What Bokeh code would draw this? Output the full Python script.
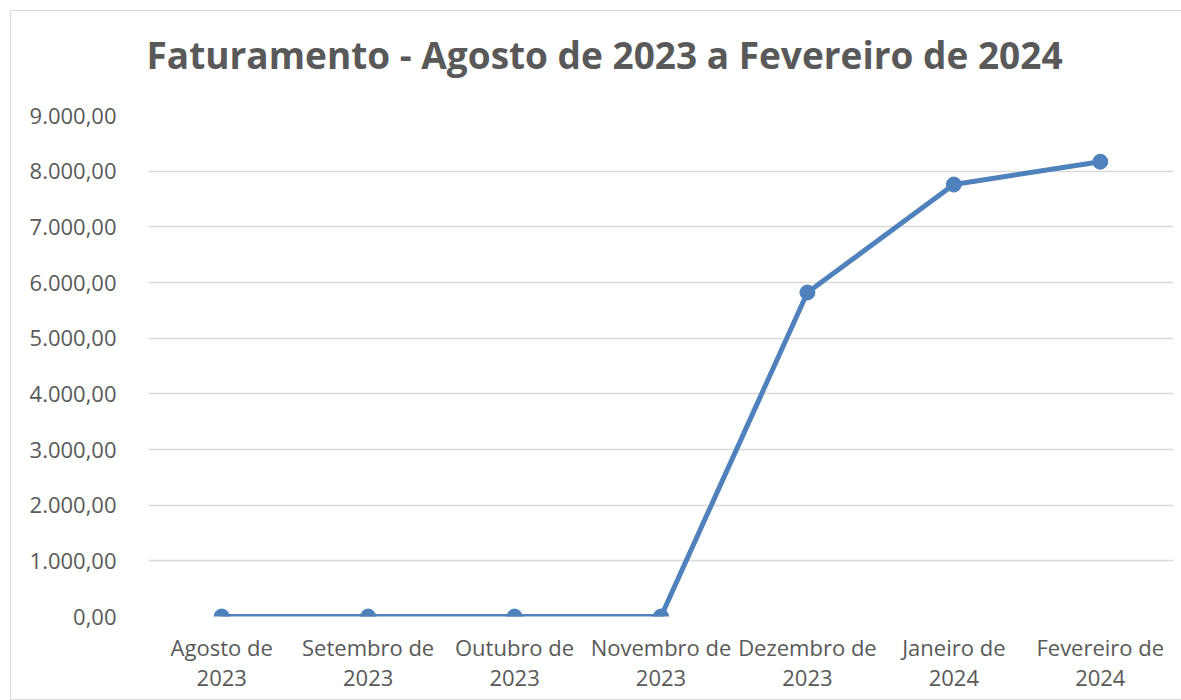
from bokeh.plotting import figure
from bokeh.models import FixedTicker, Title, Range1d
from bokeh.embed import file_html
from bokeh.resources import INLINE

title_text = "Faturamento - Agosto de 2023 a Fevereiro de 2024"
months = ["Agosto de\n2023", "Setembro de\n2023", "Outubro de\n2023", "Novembro de\n2023",
          "Dezembro de\n2023", "Janeiro de\n2024", "Fevereiro de\n2024"]
faturamento = [0, 0, 0, 0, 5820, 7760, 8170]
y_ticks = [0, 1000, 2000, 3000, 4000, 5000, 6000, 7000, 8000, 9000]
y_tick_labels = ["0,00", "1.000,00", "2.000,00", "3.000,00", "4.000,00", "5.000,00",
                 "6.000,00", "7.000,00", "8.000,00", "9.000,00"]

FONT = "Open Sans"
GRAY = "#595959"
BLUE = "#4F81BD"

p = figure(x_range=months, y_range=Range1d(0, 9000), width=1172, height=690,
           output_backend="svg", toolbar_location=None, tools="")
p.styles = {"border": "1px solid #d9d9d9", "margin-left": "10px", "margin-top": "10px"}
p.min_border_left = 137
p.min_border_right = 10
p.min_border_top = 104
p.min_border_bottom = 85
p.outline_line_color = None
p.background_fill_color = "white"
p.border_fill_color = "white"

# main title (outermost panel)
p.title.text = title_text
p.title.align = "left"
p.title.offset = -2
p.title.standoff = 10
p.title.text_font = FONT
p.title.text_font_size = "37px"
p.title.text_font_style = "bold"
p.title.text_color = GRAY

# invisible spacer panel between title and plot area
spacer = Title(text=" ", text_font_size="1px", standoff=28)
p.add_layout(spacer, "above")

p.line(months, faturamento, line_color=BLUE, line_width=5)
p.scatter(months, faturamento, size=15, fill_color=BLUE, line_color=BLUE)

p.yaxis.ticker = FixedTicker(ticks=y_ticks)
p.yaxis.major_label_overrides = {v: s for v, s in zip(y_ticks, y_tick_labels)}
for ax in (p.xaxis, p.yaxis):
    ax.axis_line_color = None
    ax.major_tick_line_color = None
    ax.minor_tick_line_color = None
    ax.major_label_text_font = FONT
    ax.major_label_text_color = GRAY
    ax.major_label_text_font_size = "22px"
p.yaxis.major_label_standoff = 26
p.xaxis.major_label_standoff = 9
p.xaxis.major_label_text_line_height = 1.0

p.xgrid.grid_line_color = None
p.ygrid.grid_line_color = "#d9d9d9"
p.ygrid.grid_line_width = 1.5
p.x_range.range_padding = 0

open("out.html", "w").write(file_html(p, INLINE))
